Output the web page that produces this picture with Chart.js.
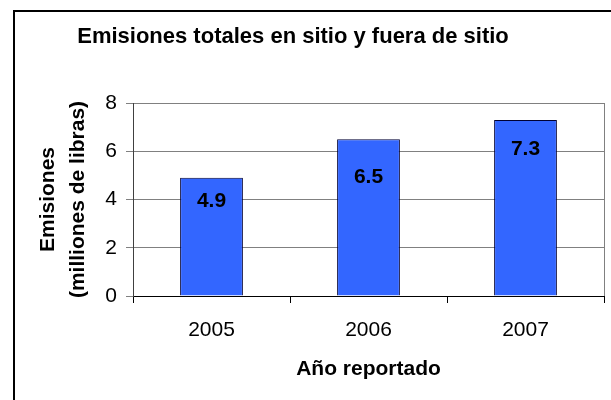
<!DOCTYPE html>
<html>
<head>
<meta charset="utf-8">
<script src="https://cdn.jsdelivr.net/npm/chart.js@4/dist/chart.umd.min.js"></script>
<style>
  html, body { margin: 0; padding: 0; background: #fff; }
  #wrap { width: 611px; height: 400px; position: relative; }
</style>
</head>
<body>
<div id="wrap"><canvas id="c" width="611" height="400"></canvas></div>
<script>
const categories = ['2005', '2006', '2007'];
const emissions = [4.9, 6.5, 7.3];
const yTicks = [0, 2, 4, 6, 8];
const chartTitle = 'Emisiones totales en sitio y fuera de sitio';
const yTitle = ['Emisiones', '(milliones de libras)'];
const xTitle = 'Año reportado';

const FONT = "'Liberation Sans', Arial, sans-serif";
const labelOffsets = [23, 38, 29];

const decor = {
  id: 'decor',
  beforeDraw(chart) {
    const ctx = chart.ctx;
    ctx.save();
    ctx.fillStyle = '#fff';
    ctx.fillRect(0, 0, chart.width, chart.height);
    ctx.strokeStyle = '#000';
    ctx.lineWidth = 2;
    ctx.beginPath();
    ctx.moveTo(14, chart.height);
    ctx.lineTo(14, 11);
    ctx.lineTo(chart.width, 11);
    ctx.stroke();
    ctx.fillStyle = '#000';
    ctx.font = 'bold 22px ' + FONT;
    ctx.textAlign = 'center';
    ctx.textBaseline = 'alphabetic';
    ctx.fillText(chartTitle, 293, 43);
    ctx.restore();
  },
  afterDraw(chart) {
    const ctx = chart.ctx;
    const a = chart.chartArea;
    ctx.save();
    ctx.strokeStyle = '#808080';
    ctx.lineWidth = 1;
    ctx.beginPath();
    ctx.moveTo(Math.round(a.right) + 0.5, a.top);
    ctx.lineTo(Math.round(a.right) + 0.5, a.bottom);
    ctx.stroke();
    const meta = chart.getDatasetMeta(0);
    ctx.fillStyle = '#000';
    ctx.font = 'bold 21px ' + FONT;
    ctx.textAlign = 'center';
    ctx.textBaseline = 'middle';
    meta.data.forEach((bar, i) => {
      const v = chart.data.datasets[0].data[i];
      ctx.fillText(v.toFixed(1), bar.x, bar.y + labelOffsets[i]);
    });
    ctx.restore();
  }
};

new Chart(document.getElementById('c'), {
  type: 'bar',
  data: {
    labels: categories,
    datasets: [{
      data: emissions,
      backgroundColor: '#3366FF',
      borderColor: '#000033',
      borderWidth: 1,
      barPercentage: 0.4,
      categoryPercentage: 1.0
    }]
  },
  options: {
    responsive: false,
    animation: false,
    events: [],
    layout: { padding: { left: 0, right: 7, top: 103, bottom: 0 } },
    plugins: {
      legend: { display: false },
      title: { display: false },
      tooltip: { enabled: false }
    },
    scales: {
      x: {
        grid: { display: true, drawOnChartArea: false, tickLength: 7, color: '#000', offset: true },
        border: { display: true, color: '#000', width: 1 },
        ticks: { color: '#000', font: { family: FONT, size: 21 }, padding: 15, maxRotation: 0 },
        title: { display: true, text: xTitle, color: '#000', font: { family: FONT, size: 21, weight: 'bold' }, padding: { top: 0, bottom: 18 } },
        afterFit(scale) { scale.height = 104; }
      },
      y: {
        min: 0, max: 8,
        afterBuildTicks(scale) { scale.ticks = yTicks.map(v => ({ value: v })); },
        grid: { color: '#808080', tickLength: 7, lineWidth: 1 },
        border: { display: true, color: '#404040', width: 1 },
        ticks: { color: '#000', font: { family: FONT, size: 21 }, padding: 9 },
        title: { display: true, text: yTitle, color: '#000', font: { family: FONT, size: 21, weight: 'bold', lineHeight: 1.43 }, padding: { top: 33, bottom: 0 } },
        afterFit(scale) { scale.width = 133; }
      }
    }
  },
  plugins: [decor]
});
</script>
</body>
</html>
